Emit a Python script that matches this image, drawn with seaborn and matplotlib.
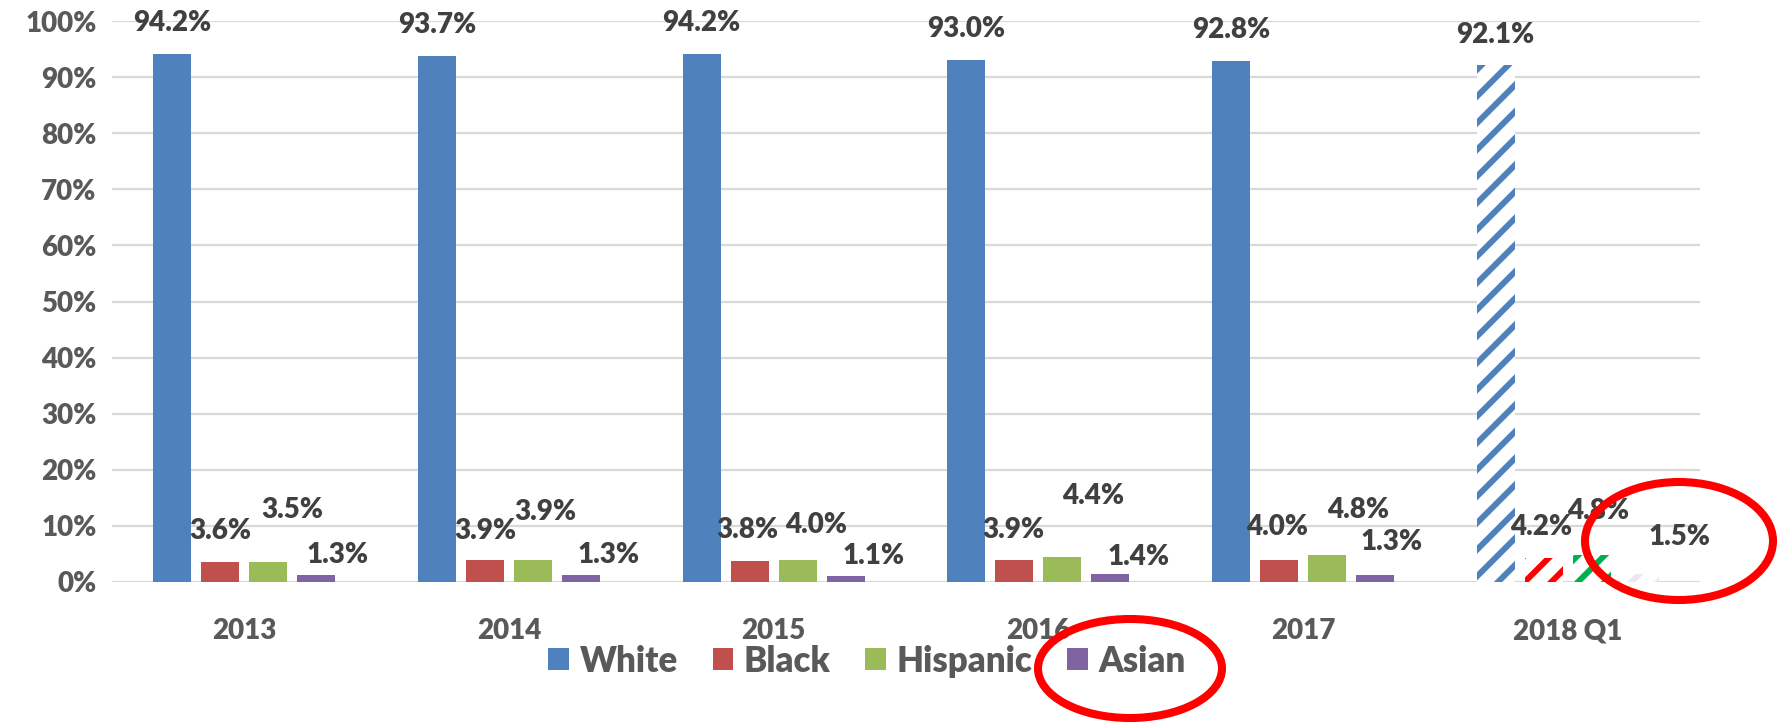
import matplotlib
matplotlib.use("Agg")
import matplotlib.pyplot as plt
import seaborn as sns
import pandas as pd
from matplotlib.patches import Ellipse, Patch

# ---------------- data ----------------
years = ["2013", "2014", "2015", "2016", "2017", "2018 Q1"]
races = ["White", "Black", "Hispanic", "Asian"]
white = [94.2, 93.7, 94.2, 93.0, 92.8, 92.1]
black = [3.6, 3.9, 3.8, 3.9, 4.0, 4.2]
hispanic = [3.5, 3.9, 4.0, 4.4, 4.8, 4.8]
asian = [1.3, 1.3, 1.1, 1.4, 1.3, 1.5]
y_ticks = [0, 10, 20, 30, 40, 50, 60, 70, 80, 90, 100]
hatched_year = "2018 Q1"

# ---------------- styles ----------------
colors = {"White": "#4F81BD", "Black": "#C0504D", "Hispanic": "#9BBB59", "Asian": "#8064A2"}
hatch_colors = {"White": "#4F81BD", "Black": "#FF0000", "Hispanic": "#00B050", "Asian": "#ECE7F3"}
# label offsets (pixels) from the top-centre of each bar
label_dx = {"White": [0, 0, 0, 0, 0, 0],
            "Black": [0, 0, -2, -1, -2, -3],
            "Hispanic": [24, 12, 18, 31, 31, 7],
            "Asian": [21, 28, 28, 28, 17, 40]}
label_dy = {"White": [31, 31, 31, 31, 31, 30],
            "Black": [31, 29, 31, 30, 33, 31],
            "Hispanic": [52, 48, 35, 61, 45, 44],
            "Asian": [20, 20, 20, 17, 33, 37]}

W, H = 1783, 726
DPI = 80
K = 100 / DPI          # point sizes were tuned at 100 dpi
FONT = ["Lato", "DejaVu Sans"]

plt.rcParams["hatch.linewidth"] = 4.3 * K
plt.rcParams["font.family"] = FONT

series = {"White": white, "Black": black, "Hispanic": hispanic, "Asian": asian}
rows = []
for r in races:
    for y, v in zip(years, series[r]):
        rows.append({"year": y, "race": r, "value": v})
df = pd.DataFrame(rows)

fig = plt.figure(figsize=(W / DPI, H / DPI), dpi=DPI)
ax = fig.add_axes([112 / W, 1 - 582 / H, (1700 - 112) / W, (582 - 21) / H])

sns.barplot(data=df, x="year", y="value", hue="race", order=years, hue_order=races,
            palette=colors, saturation=1, width=0.725, gap=0.21, errorbar=None,
            legend=False, linewidth=0, ax=ax)

ax.set_ylim(0, 100)
ax.set_xlim(-0.5, len(years) - 0.5)
ax.set_yticks(y_ticks)
ax.set_yticklabels([f"{t}%" for t in y_ticks])
ax.yaxis.grid(True, color="#D9D9D9", linewidth=1.6 * K)
ax.set_axisbelow(True)
for s in ax.spines.values():
    s.set_visible(False)
ax.tick_params(axis="both", length=0, labelcolor="#595959")
ax.tick_params(axis="y", pad=11 * K, labelsize=20 * K)
ax.tick_params(axis="x", pad=26 * K, labelsize=20 * K)
for lab in ax.get_xticklabels() + ax.get_yticklabels():
    lab.set_fontweight("heavy")
    lab.set_family(FONT)
ax.set_xlabel("")
ax.set_ylabel("")

hidx = years.index(hatched_year)
for race, cont in zip(races, ax.containers):
    for i, bar in enumerate(cont.patches):
        if i == hidx:
            bar.set_facecolor("white")
            bar.set_edgecolor(hatch_colors[race])
            bar.set_hatch("/")
            bar.set_linewidth(0)
        v = series[race][i]
        xc = bar.get_x() + bar.get_width() / 2
        ax.annotate(f"{v:.1f}%", xy=(xc, bar.get_height()),
                    xytext=(label_dx[race][i], label_dy[race][i]),
                    textcoords="offset pixels", ha="center", va="center",
                    fontsize=20 * K, fontweight="heavy", color="#404040",
                    family=FONT, annotation_clip=False)

handles = [Patch(facecolor=colors[r], edgecolor="none") for r in races]
fig.legend(handles, races, loc="center", bbox_to_anchor=(867 / W, 1 - 661 / H),
           ncol=4, frameon=False,
           prop={"family": FONT, "weight": "heavy", "size": 25 * K},
           labelcolor="#595959", handlelength=0.6, handleheight=0.6,
           handletextpad=0.3, columnspacing=1.0)

# red highlight ellipses (pixel geometry)
for cx, cy, ew, eh in [(1130, 668.5, 184, 99), (1679, 541, 188, 118)]:
    e = Ellipse((cx / DPI, (H - cy) / DPI), ew / DPI, eh / DPI,
                transform=fig.dpi_scale_trans, fill=False, edgecolor="#FF0000",
                linewidth=5.8 * K, zorder=10)
    fig.add_artist(e)

fig.savefig("out.png", dpi=DPI)
